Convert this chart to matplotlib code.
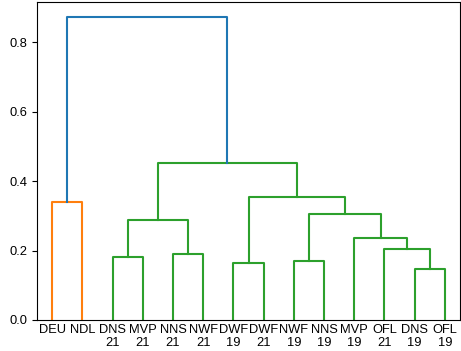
import numpy as np
import matplotlib.pyplot as plt

plt.rcParams['font.family'] = ['Liberation Sans', 'DejaVu Sans']

# leaf labels in dendrogram order
leaf_labels = ['DEU', 'NDL', 'DNS\n21', 'MVP\n21', 'NNS\n21', 'NWF\n21',
               'DWF\n19', 'DWF\n21', 'NWF\n19', 'NNS\n19', 'MVP\n19',
               'OFL\n21', 'DNS\n19', 'OFL\n19']

# merges: (left id, right id, height); ids >= 14 refer to earlier merges
merge_left = [0, 2, 4, 15, 6, 8, 12, 11, 10, 19, 18, 17, 14]
merge_right = [1, 3, 5, 16, 7, 9, 13, 20, 21, 22, 23, 24, 25]
merge_height = [0.340, 0.182, 0.190, 0.288, 0.164, 0.170, 0.148,
                0.203, 0.235, 0.306, 0.354, 0.453, 0.872]

n = len(leaf_labels)
pos = {i: (5 + 10 * i, 0.0) for i in range(n)}
links = []
for k, (a, b, h) in enumerate(zip(merge_left, merge_right, merge_height)):
    xa, ya = pos[a]
    xb, yb = pos[b]
    links.append(([xa, xa, xb, xb], [ya, h, h, yb]))
    pos[n + k] = ((xa + xb) / 2, h)

# colour clusters below 0.7 * max height, left to right like scipy
thr = 0.7 * max(merge_height)
palette = ['C1', 'C2', 'C3', 'C4']


def top_clusters(node):
    if node < n:
        return [node]
    k = node - n
    if merge_height[k] < thr:
        return [node]
    return top_clusters(merge_left[k]) + top_clusters(merge_right[k])


node_color = {}
for ci, root in enumerate(top_clusters(n + len(merge_height) - 1)):
    stack = [root]
    while stack:
        m = stack.pop()
        node_color[m] = palette[ci % len(palette)]
        if m >= n:
            stack += [merge_left[m - n], merge_right[m - n]]

fig = plt.figure(figsize=(4.61, 3.51), dpi=100)
ax = fig.add_axes([37 / 461, 1 - 320 / 351, 423 / 461, 318 / 351])
for k, (xs, ys) in enumerate(links):
    col = node_color.get(n + k, 'C0')
    ax.plot(xs, ys, color=col, linewidth=1.5)

ax.set_xlim(0, 10 * n)
ax.set_ylim(0, max(merge_height) * 1.05)
ax.set_xticks([5 + 10 * i for i in range(n)])
ax.set_xticklabels(leaf_labels, fontsize=9.3, linespacing=1.1)
ax.tick_params(axis='x', length=0, pad=3)
ax.tick_params(axis='y', labelsize=9.3)
ax.set_yticks([0.0, 0.2, 0.4, 0.6, 0.8])

fig.savefig('out.png', dpi=100)
